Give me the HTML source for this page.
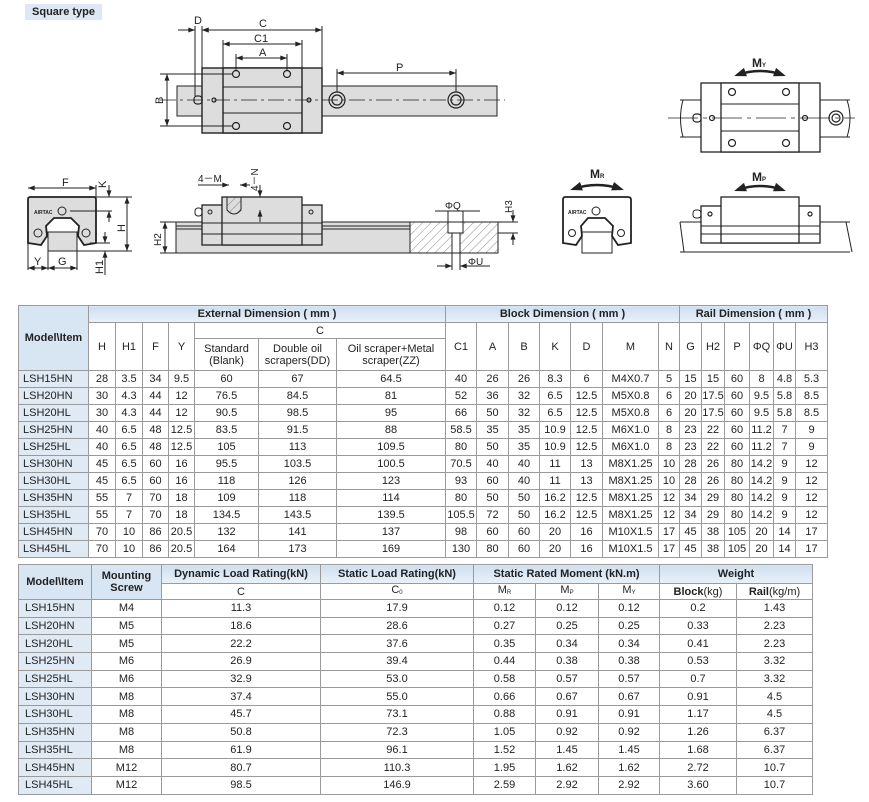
<!DOCTYPE html>
<html><head><meta charset="utf-8"><style>
body{margin:0;width:869px;height:802px;background:#fff;position:relative;overflow:hidden;font-family:"Liberation Sans",Arial,sans-serif;color:#222}
.title{position:absolute;left:25px;top:4px;width:77px;height:16px;background:#dde8f4;font-size:11px;font-weight:bold;line-height:16px;text-align:center}
table{position:absolute;border-collapse:collapse;table-layout:fixed;font-size:11px}
td{border:1px solid #9a9a9a;text-align:center;padding:0;white-space:nowrap;overflow:hidden;line-height:12px}
td.h{background:linear-gradient(#cfdff0,#e9f1f9);font-weight:bold}
td.s{background:#fff;font-weight:normal}
td.m{background:#dfeaf5;text-align:left;padding-left:4px}
td.mh{background:#d8e5f2;font-weight:bold}
#t1{left:18px;top:305px}
#t2{left:18px;top:564px;font-family:"Liberation Sans Narrow","Liberation Sans",sans-serif;font-size:11px}
#t2 td.m{padding-left:6px}
sub{font-size:6px;vertical-align:-1px}
</style></head><body>
<div class="title">Square type</div>
<svg width="869" height="300" style="position:absolute;left:0;top:0" font-family="Liberation Sans,Arial,sans-serif" font-size="10" fill="none" stroke="#222" stroke-width="1">
<defs><marker id="a" viewBox="0 0 8 6" refX="8" refY="3" markerUnits="userSpaceOnUse" markerWidth="7" markerHeight="5" orient="auto-start-reverse"><path d="M0 0L8 3L0 6z" fill="#222" stroke="none"/></marker>
<marker id="b" viewBox="0 0 8 6" refX="6" refY="3" markerUnits="userSpaceOnUse" markerWidth="12" markerHeight="9" orient="auto-start-reverse"><path d="M0 0L8 3L0 6z" fill="#222" stroke="none"/></marker>
<pattern id="hx" width="6" height="6" patternUnits="userSpaceOnUse" patternTransform="rotate(45)"><line x1="0" y1="0" x2="0" y2="6" stroke="#555" stroke-width="0.7"/></pattern></defs>
<!-- top view -->
<rect x="177" y="86" width="320" height="30" fill="#ddd"/>
<rect x="202" y="68" width="120" height="65" fill="#ddd" stroke-width="1.4"/>
<rect x="223" y="68" width="79" height="65" fill="#ddd" stroke-width="1.4"/>
<line x1="223" y1="87" x2="302" y2="87"/><line x1="223" y1="113" x2="302" y2="113"/>
<line x1="160" y1="100" x2="505" y2="100" stroke-dasharray="16,4,3,4" stroke-width="0.8"/>
<g stroke-width="1.2"><circle cx="236" cy="74" r="3.5"/><circle cx="287" cy="74" r="3.5"/><circle cx="236" cy="126" r="3.5"/><circle cx="287" cy="126" r="3.5"/>
<circle cx="214" cy="100" r="2"/><circle cx="309" cy="100" r="2"/>
<circle cx="337" cy="100" r="8"/><circle cx="337" cy="100" r="5"/><circle cx="456" cy="100" r="8"/><circle cx="456" cy="100" r="5"/>
<rect x="194" y="96" width="8" height="8" rx="3"/></g>
<line x1="202" y1="68" x2="202" y2="26"/><line x1="322" y1="68" x2="322" y2="26"/><line x1="195" y1="96" x2="195" y2="26"/>
<line x1="223" y1="68" x2="223" y2="40"/><line x1="302" y1="68" x2="302" y2="40"/>
<line x1="236" y1="70" x2="236" y2="54"/><line x1="287" y1="70" x2="287" y2="54"/>
<line x1="337" y1="92" x2="337" y2="69"/><line x1="456" y1="92" x2="456" y2="69"/>
<line x1="202" y1="30" x2="322" y2="30" marker-start="url(#a)" marker-end="url(#a)"/>
<line x1="178" y1="30" x2="195" y2="30" marker-end="url(#a)"/><line x1="215" y1="30" x2="202" y2="30" marker-end="url(#a)"/>
<line x1="223" y1="44" x2="302" y2="44" marker-start="url(#a)" marker-end="url(#a)"/>
<line x1="236" y1="58" x2="287" y2="58" marker-start="url(#a)" marker-end="url(#a)"/>
<line x1="337" y1="73" x2="456" y2="73" marker-start="url(#a)" marker-end="url(#a)"/>
<line x1="160" y1="74" x2="233" y2="74"/><line x1="160" y1="126" x2="233" y2="126"/>
<line x1="167" y1="74" x2="167" y2="126" marker-start="url(#a)" marker-end="url(#a)"/>
<g fill="#222" stroke="none" font-size="11"><text x="259" y="27">C</text><text x="254" y="42">C1</text><text x="259" y="56">A</text><text x="194" y="24">D</text><text x="396" y="71">P</text><text transform="translate(163,104) rotate(-90)">B</text></g>
<!-- top right MY -->
<path d="M680 100 L850 100 M680 137 L850 137 M683 100 Q678 118 683 137 M847 100 Q853 118 847 137" stroke-width="1"/>
<rect x="701" y="83" width="119" height="69" fill="#fff" stroke-width="1.3"/>
<rect x="721" y="83" width="78" height="69" fill="#fff" stroke-width="1.3"/>
<line x1="721" y1="104" x2="799" y2="104"/><line x1="721" y1="131" x2="799" y2="131"/>
<line x1="668" y1="118" x2="855" y2="118" stroke-dasharray="30,5,4,5" stroke-width="0.8"/>
<g stroke-width="1.2"><circle cx="732" cy="92" r="3.5"/><circle cx="786" cy="92" r="3.5"/><circle cx="732" cy="143" r="3.5"/><circle cx="786" cy="143" r="3.5"/><circle cx="712" cy="118" r="2.5"/><circle cx="805" cy="118" r="2.5"/><circle cx="836" cy="118" r="7"/><circle cx="836" cy="118" r="4"/><rect x="693" y="114" width="8" height="8" rx="3"/></g>
<path d="M737 75 Q760 67 783 75" stroke-width="2.5" marker-start="url(#b)" marker-end="url(#b)"/>
<text x="752" y="67" fill="#222" stroke="none" font-weight="bold" font-size="12">M<tspan font-size="6">Y</tspan></text>
<!-- MP side -->
<path d="M680 222 L850 222 M680 252 L850 252 M680 222 L684 252 M846 222 L852 252"/>
<rect x="701" y="206" width="119" height="37" fill="#fff" stroke-width="1.3"/>
<rect x="721" y="197" width="78" height="46" fill="#fff" stroke-width="1.3"/>
<line x1="701" y1="226" x2="820" y2="226"/><line x1="701" y1="234" x2="820" y2="234"/>
<circle cx="710" cy="214" r="2" stroke-width="1.2"/><circle cx="810" cy="214" r="2" stroke-width="1.2"/><rect x="693" y="210" width="8" height="8" rx="3"/>
<path d="M737 190 Q760 182 783 190" stroke-width="2.5" marker-start="url(#b)" marker-end="url(#b)"/>
<text x="752" y="181" fill="#222" stroke="none" font-weight="bold" font-size="12">M<tspan font-size="6">P</tspan></text>
<!-- MR end -->
<rect x="582" y="232" width="30" height="21" fill="#fff"/>
<path d="M565 197 L628 197 Q631 197 631 200 L631 243 L618 245 L612 236 L613 226 L605 218 L588 218 L581 226 L582 236 L576 245 L563 243 L563 200 Q563 197 565 197z" fill="#fff" stroke-width="1.8"/>
<circle cx="572" cy="233" r="3.5"/><circle cx="621" cy="233" r="3.5"/><circle cx="596" cy="211" r="4"/>
<text x="568" y="214" font-size="5" fill="#222" stroke="none" font-weight="bold">AIRTAC</text>
<path d="M573 189 Q597 181 621 189" stroke-width="2.5" marker-start="url(#b)" marker-end="url(#b)"/>
<text x="590" y="178" fill="#222" stroke="none" font-weight="bold" font-size="12">M<tspan font-size="6">R</tspan></text>
<!-- left end view -->
<rect x="48" y="232" width="29" height="19" fill="#ddd"/>
<path d="M30 197 L94 197 Q96 197 96 200 L96 243 L84 245 L78 236 L79 226 L71 218 L54 218 L46 226 L47 236 L41 245 L28 243 L28 200 Q28 197 30 197z" fill="#ddd" stroke-width="1.8"/>
<circle cx="38" cy="233" r="4"/><circle cx="86" cy="233" r="4"/><circle cx="62" cy="211" r="4"/>
<text x="34" y="214" font-size="5" fill="#222" stroke="none" font-weight="bold">AIRTAC</text>
<line x1="28" y1="188" x2="96" y2="188" marker-start="url(#a)" marker-end="url(#a)"/>
<line x1="28" y1="197" x2="28" y2="270"/><line x1="96" y1="185" x2="96" y2="197"/><line x1="48" y1="251" x2="48" y2="270"/><line x1="77" y1="251" x2="77" y2="270"/>
<line x1="28" y1="268" x2="48" y2="268" marker-start="url(#a)" marker-end="url(#a)"/><line x1="48" y1="268" x2="77" y2="268" marker-start="url(#a)" marker-end="url(#a)"/>
<line x1="96" y1="197" x2="132" y2="197"/><line x1="70" y1="211" x2="112" y2="211"/><line x1="77" y1="251" x2="132" y2="251"/><line x1="90" y1="243" x2="110" y2="243"/>
<line x1="109" y1="185" x2="109" y2="197" marker-end="url(#a)"/><line x1="109" y1="222" x2="109" y2="211" marker-end="url(#a)"/>
<line x1="127" y1="197" x2="127" y2="251" marker-start="url(#a)" marker-end="url(#a)"/>
<line x1="105" y1="232" x2="105" y2="243" marker-end="url(#a)"/><line x1="105" y1="275" x2="105" y2="251" marker-end="url(#a)"/>
<g fill="#222" stroke="none" font-size="11"><text x="62" y="186">F</text><text x="34" y="265">Y</text><text x="58" y="265">G</text><text transform="translate(106,188) rotate(-90)">K</text><text transform="translate(125,232) rotate(-90)">H</text><text transform="translate(103,274) rotate(-90)">H1</text></g>
<!-- side view -->
<rect x="176" y="222" width="234" height="31" fill="#ddd"/>
<line x1="176" y1="226" x2="410" y2="226"/><line x1="176" y1="229" x2="410" y2="229"/>
<rect x="410" y="222" width="88" height="31" fill="url(#hx)"/>
<rect x="448" y="222" width="15" height="11" fill="#fff"/><rect x="452" y="233" width="8" height="20" fill="#fff"/>
<rect x="202" y="205" width="120" height="40" fill="#ddd" stroke-width="1.3"/>
<rect x="222" y="197" width="80" height="48" fill="#ddd" stroke-width="1.3"/>
<line x1="202" y1="223" x2="322" y2="223"/><line x1="202" y1="234" x2="322" y2="234"/>
<path d="M227 197 L227 210 Q234 218 241 210 L241 197" fill="url(#hx)"/>
<circle cx="210" cy="212" r="2"/><circle cx="311" cy="212" r="2"/><rect x="195" y="208" width="7" height="8" rx="3"/>
<line x1="198" y1="185" x2="222" y2="185"/><line x1="222" y1="185" x2="229" y2="185" marker-end="url(#a)"/><line x1="250" y1="185" x2="240" y2="185" marker-end="url(#a)"/>
<line x1="260" y1="185" x2="260" y2="197" marker-end="url(#a)"/><line x1="260" y1="222" x2="260" y2="210" marker-end="url(#a)"/>
<line x1="160" y1="222" x2="176" y2="222"/><line x1="160" y1="253" x2="176" y2="253"/><line x1="165" y1="222" x2="165" y2="253" marker-start="url(#a)" marker-end="url(#a)"/>
<line x1="435" y1="211" x2="480" y2="211"/><line x1="448" y1="211" x2="448" y2="222"/><line x1="463" y1="211" x2="463" y2="222"/>
<line x1="437" y1="266" x2="452" y2="266" marker-end="url(#a)"/><line x1="490" y1="266" x2="460" y2="266" marker-end="url(#a)"/><line x1="452" y1="253" x2="452" y2="270"/><line x1="460" y1="253" x2="460" y2="270"/>
<line x1="498" y1="222" x2="518" y2="222"/><line x1="498" y1="233" x2="518" y2="233"/><line x1="513" y1="210" x2="513" y2="222" marker-end="url(#a)"/><line x1="513" y1="245" x2="513" y2="233" marker-end="url(#a)"/>
<g fill="#222" stroke="none" font-size="10"><text x="198" y="182">4－M</text><text transform="translate(258,191) rotate(-90)">4－N</text><text transform="translate(161,246) rotate(-90)">H2</text><text x="445" y="209">ΦQ</text><text x="468" y="265">ΦU</text><text transform="translate(512,213) rotate(-90)">H3</text></g>
</svg>

<table id="t1">
<colgroup><col style="width:70px"><col style="width:27px"><col style="width:27px"><col style="width:26px"><col style="width:26px"><col style="width:64px"><col style="width:78px"><col style="width:109px"><col style="width:31px"><col style="width:32px"><col style="width:31px"><col style="width:31px"><col style="width:32px"><col style="width:56px"><col style="width:21px"><col style="width:22px"><col style="width:23px"><col style="width:25px"><col style="width:24px"><col style="width:22px"><col style="width:32px"></colgroup>
<tr style="height:17px"><td class="mh" rowspan="3">Model\Item</td><td class="h" colspan="7">External Dimension ( mm )</td><td class="h" colspan="7">Block Dimension ( mm )</td><td class="h" colspan="7">Rail Dimension ( mm )</td></tr>
<tr style="height:16px"><td class="s" rowspan="2">H</td><td class="s" rowspan="2">H1</td><td class="s" rowspan="2">F</td><td class="s" rowspan="2">Y</td><td class="s" colspan="3">C</td><td class="s" rowspan="2">C1</td><td class="s" rowspan="2">A</td><td class="s" rowspan="2">B</td><td class="s" rowspan="2">K</td><td class="s" rowspan="2">D</td><td class="s" rowspan="2">M</td><td class="s" rowspan="2">N</td><td class="s" rowspan="2">G</td><td class="s" rowspan="2">H2</td><td class="s" rowspan="2">P</td><td class="s" rowspan="2">ΦQ</td><td class="s" rowspan="2">ΦU</td><td class="s" rowspan="2">H3</td></tr>
<tr style="height:32px"><td>Standard<br>(Blank)</td><td>Double oil<br>scrapers(DD)</td><td>Oil scraper+Metal<br>scraper(ZZ)</td></tr>
<tr style="height:17px"><td class="m">LSH15HN</td><td>28</td><td>3.5</td><td>34</td><td>9.5</td><td>60</td><td>67</td><td>64.5</td><td>40</td><td>26</td><td>26</td><td>8.3</td><td>6</td><td>M4X0.7</td><td>5</td><td>15</td><td>15</td><td>60</td><td>8</td><td>4.8</td><td>5.3</td></tr>
<tr style="height:17px"><td class="m">LSH20HN</td><td>30</td><td>4.3</td><td>44</td><td>12</td><td>76.5</td><td>84.5</td><td>81</td><td>52</td><td>36</td><td>32</td><td>6.5</td><td>12.5</td><td>M5X0.8</td><td>6</td><td>20</td><td>17.5</td><td>60</td><td>9.5</td><td>5.8</td><td>8.5</td></tr>
<tr style="height:17px"><td class="m">LSH20HL</td><td>30</td><td>4.3</td><td>44</td><td>12</td><td>90.5</td><td>98.5</td><td>95</td><td>66</td><td>50</td><td>32</td><td>6.5</td><td>12.5</td><td>M5X0.8</td><td>6</td><td>20</td><td>17.5</td><td>60</td><td>9.5</td><td>5.8</td><td>8.5</td></tr>
<tr style="height:17px"><td class="m">LSH25HN</td><td>40</td><td>6.5</td><td>48</td><td>12.5</td><td>83.5</td><td>91.5</td><td>88</td><td>58.5</td><td>35</td><td>35</td><td>10.9</td><td>12.5</td><td>M6X1.0</td><td>8</td><td>23</td><td>22</td><td>60</td><td>11.2</td><td>7</td><td>9</td></tr>
<tr style="height:17px"><td class="m">LSH25HL</td><td>40</td><td>6.5</td><td>48</td><td>12.5</td><td>105</td><td>113</td><td>109.5</td><td>80</td><td>50</td><td>35</td><td>10.9</td><td>12.5</td><td>M6X1.0</td><td>8</td><td>23</td><td>22</td><td>60</td><td>11.2</td><td>7</td><td>9</td></tr>
<tr style="height:17px"><td class="m">LSH30HN</td><td>45</td><td>6.5</td><td>60</td><td>16</td><td>95.5</td><td>103.5</td><td>100.5</td><td>70.5</td><td>40</td><td>40</td><td>11</td><td>13</td><td>M8X1.25</td><td>10</td><td>28</td><td>26</td><td>80</td><td>14.2</td><td>9</td><td>12</td></tr>
<tr style="height:17px"><td class="m">LSH30HL</td><td>45</td><td>6.5</td><td>60</td><td>16</td><td>118</td><td>126</td><td>123</td><td>93</td><td>60</td><td>40</td><td>11</td><td>13</td><td>M8X1.25</td><td>10</td><td>28</td><td>26</td><td>80</td><td>14.2</td><td>9</td><td>12</td></tr>
<tr style="height:17px"><td class="m">LSH35HN</td><td>55</td><td>7</td><td>70</td><td>18</td><td>109</td><td>118</td><td>114</td><td>80</td><td>50</td><td>50</td><td>16.2</td><td>12.5</td><td>M8X1.25</td><td>12</td><td>34</td><td>29</td><td>80</td><td>14.2</td><td>9</td><td>12</td></tr>
<tr style="height:17px"><td class="m">LSH35HL</td><td>55</td><td>7</td><td>70</td><td>18</td><td>134.5</td><td>143.5</td><td>139.5</td><td>105.5</td><td>72</td><td>50</td><td>16.2</td><td>12.5</td><td>M8X1.25</td><td>12</td><td>34</td><td>29</td><td>80</td><td>14.2</td><td>9</td><td>12</td></tr>
<tr style="height:17px"><td class="m">LSH45HN</td><td>70</td><td>10</td><td>86</td><td>20.5</td><td>132</td><td>141</td><td>137</td><td>98</td><td>60</td><td>60</td><td>20</td><td>16</td><td>M10X1.5</td><td>17</td><td>45</td><td>38</td><td>105</td><td>20</td><td>14</td><td>17</td></tr>
<tr style="height:17px"><td class="m">LSH45HL</td><td>70</td><td>10</td><td>86</td><td>20.5</td><td>164</td><td>173</td><td>169</td><td>130</td><td>80</td><td>60</td><td>20</td><td>16</td><td>M10X1.5</td><td>17</td><td>45</td><td>38</td><td>105</td><td>20</td><td>14</td><td>17</td></tr>
</table>

<table id="t2">
<colgroup><col style="width:73px"><col style="width:70px"><col style="width:159px"><col style="width:153px"><col style="width:62px"><col style="width:63px"><col style="width:61px"><col style="width:77px"><col style="width:76px"></colgroup>
<tr style="height:19px"><td class="mh" rowspan="2">Model\Item</td><td class="mh" rowspan="2">Mounting<br>Screw</td><td class="h">Dynamic Load Rating(kN)</td><td class="h">Static Load Rating(kN)</td><td class="h" colspan="3">Static Rated Moment (kN.m)</td><td class="h" colspan="2">Weight</td></tr>
<tr style="height:15px"><td>C</td><td>C<sub>0</sub></td><td>M<sub>R</sub></td><td>M<sub>P</sub></td><td>M<sub>Y</sub></td><td><b>Block</b>(kg)</td><td><b>Rail</b>(kg/m)</td></tr>
<tr style="height:17.7px"><td class="m">LSH15HN</td><td>M4</td><td>11.3</td><td>17.9</td><td>0.12</td><td>0.12</td><td>0.12</td><td>0.2</td><td>1.43</td></tr>
<tr style="height:17.7px"><td class="m">LSH20HN</td><td>M5</td><td>18.6</td><td>28.6</td><td>0.27</td><td>0.25</td><td>0.25</td><td>0.33</td><td>2.23</td></tr>
<tr style="height:17.7px"><td class="m">LSH20HL</td><td>M5</td><td>22.2</td><td>37.6</td><td>0.35</td><td>0.34</td><td>0.34</td><td>0.41</td><td>2.23</td></tr>
<tr style="height:17.7px"><td class="m">LSH25HN</td><td>M6</td><td>26.9</td><td>39.4</td><td>0.44</td><td>0.38</td><td>0.38</td><td>0.53</td><td>3.32</td></tr>
<tr style="height:17.7px"><td class="m">LSH25HL</td><td>M6</td><td>32.9</td><td>53.0</td><td>0.58</td><td>0.57</td><td>0.57</td><td>0.7</td><td>3.32</td></tr>
<tr style="height:17.7px"><td class="m">LSH30HN</td><td>M8</td><td>37.4</td><td>55.0</td><td>0.66</td><td>0.67</td><td>0.67</td><td>0.91</td><td>4.5</td></tr>
<tr style="height:17.7px"><td class="m">LSH30HL</td><td>M8</td><td>45.7</td><td>73.1</td><td>0.88</td><td>0.91</td><td>0.91</td><td>1.17</td><td>4.5</td></tr>
<tr style="height:17.7px"><td class="m">LSH35HN</td><td>M8</td><td>50.8</td><td>72.3</td><td>1.05</td><td>0.92</td><td>0.92</td><td>1.26</td><td>6.37</td></tr>
<tr style="height:17.7px"><td class="m">LSH35HL</td><td>M8</td><td>61.9</td><td>96.1</td><td>1.52</td><td>1.45</td><td>1.45</td><td>1.68</td><td>6.37</td></tr>
<tr style="height:17.7px"><td class="m">LSH45HN</td><td>M12</td><td>80.7</td><td>110.3</td><td>1.95</td><td>1.62</td><td>1.62</td><td>2.72</td><td>10.7</td></tr>
<tr style="height:17.7px"><td class="m">LSH45HL</td><td>M12</td><td>98.5</td><td>146.9</td><td>2.59</td><td>2.92</td><td>2.92</td><td>3.60</td><td>10.7</td></tr>
</table>
</body></html>
